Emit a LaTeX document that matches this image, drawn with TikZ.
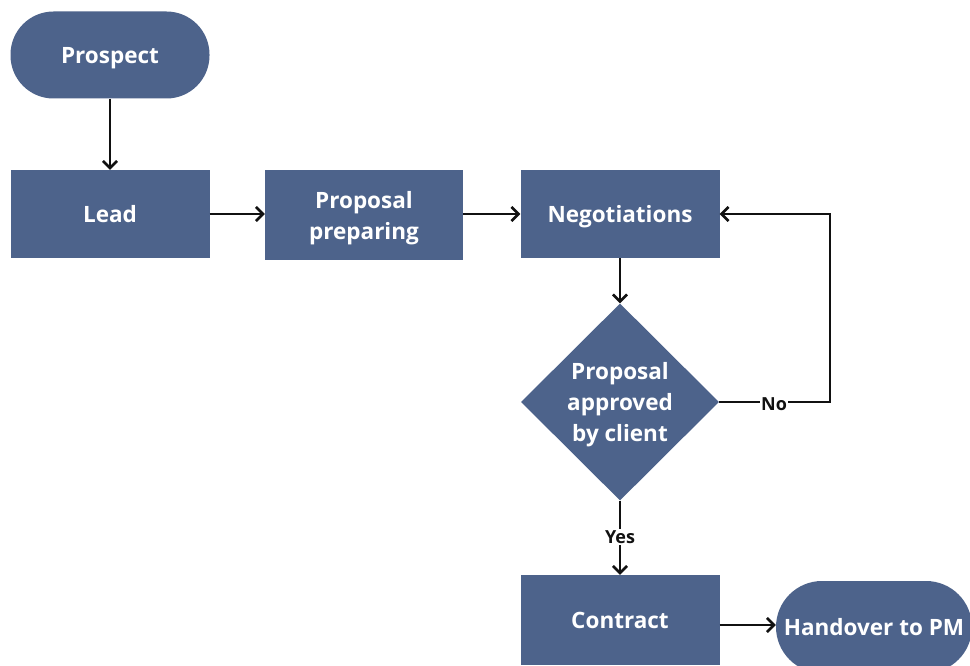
\documentclass[tikz,border=0pt]{standalone}
\usepackage{fontspec}
\setmainfont{Open Sans}
\usetikzlibrary{shapes.geometric,arrows.meta}
\definecolor{boxblue}{HTML}{4D638B}
\definecolor{ink}{HTML}{111111}
\tikzset{
  base/.style={fill=boxblue, draw=none, text=white, font=\bfseries\fontsize{22.5}{31}\selectfont, align=center, inner sep=0pt, text depth=0pt},
  procbox/.style={base, rectangle, minimum width=199pt, minimum height=88pt},
  terminal/.style={base, rectangle, rounded corners=43pt, minimum width=199pt, minimum height=87pt},
  decision/.style={base, diamond, minimum width=198pt, minimum height=197pt, aspect=1},
  flow/.style={draw=ink, line width=2.6pt, -{Straight Barb[length=7pt,width=14pt,line width=2.6pt]}},
  tag/.style={fill=white, text=ink, font=\bfseries\fontsize{18}{20}\selectfont, inner sep=1pt}
}
\begin{document}
\begin{tikzpicture}[x=1pt,y=-1pt]
\useasboundingbox[fill=white] (0,0) rectangle (970,666);

\node[terminal] (prospect) at (110,55) {Prospect};
\node[procbox] (lead) at (110,214) {Lead};
\node[procbox, minimum width=198pt, minimum height=89pt] (prep) at (364,215) {Proposal\\preparing};
\node[procbox] (nego) at (620,214) {Negotiations};
\node[decision] (dec) at (620,402) {Proposal\\approved\\by client};
\node[procbox, minimum height=90pt] (contract) at (620,620) {Contract};
\node[terminal, minimum width=196pt, minimum height=92pt, rounded corners=46pt] (hand) at (874,627) {Handover to PM};

\coordinate (loopA) at (830,402);
\coordinate (loopB) at (830,214);

\draw[flow] (prospect) -- (lead);
\draw[flow] (lead.east) -- (prep.west |- lead.east);
\draw[flow] (prep.east |- nego.west) -- (nego.west);
\draw[flow] (nego) -- (dec);
\draw[flow] (dec.east) -- (loopA) -- (loopB) -- (nego.east);
\draw[flow] (dec.south) -- (contract.north);
\draw[flow] (contract.east |- 0,625) -- (hand.west |- 0,625);

\node[tag] (nolab) at (774,404) {No};
\node[tag] (yeslab) at (620,537) {Yes};
\end{tikzpicture}
\end{document}
